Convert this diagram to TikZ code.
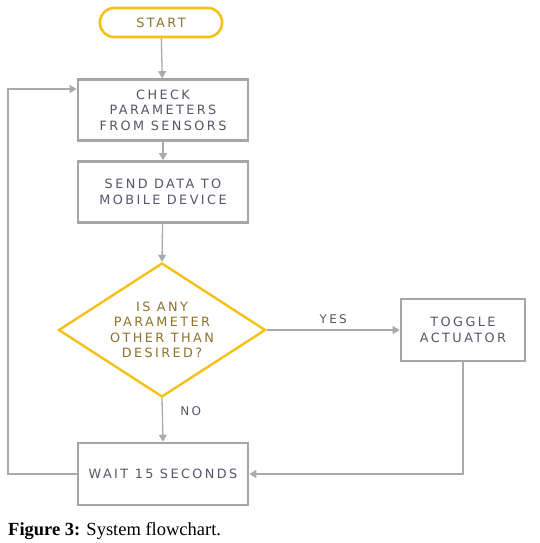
\documentclass[tikz,border=0pt]{standalone}
\usepackage{fontspec}
\setmainfont{Liberation Serif}
\newfontfamily\boxfont[LetterSpace=19]{DejaVu Sans}
\usetikzlibrary{shapes.geometric,arrows.meta}
\definecolor{boxgray}{HTML}{A6A6A6}
\definecolor{linegray}{HTML}{AAAAAA}
\definecolor{gold}{HTML}{F5C116}
\definecolor{goldtext}{HTML}{8E7128}
\definecolor{boxtext}{HTML}{55556A}
\tikzset{
  x=1pt,y=-1pt,
  txt/.style={font=\boxfont\fontsize{12.8}{15.5}\selectfont},
  procbox/.style={txt,draw=boxgray,line width=2.6pt,fill=white,minimum width=170pt,minimum height=61pt,
    text=boxtext,align=center,inner sep=0pt},
  termbox/.style={txt,draw=gold,line width=2.6pt,rounded corners=14pt,minimum width=122pt,minimum height=29pt,
    text=goldtext,inner sep=0pt},
  decbox/.style={draw=gold,line width=2.4pt,diamond,aspect=1.55,minimum width=207pt,minimum height=134pt,
    inner sep=0pt},
  dectxt/.style={txt,text=goldtext,align=center},
  conn/.style={draw=linegray,line width=1.3pt,-{Triangle[width=8pt,length=7pt]}},
  lbl/.style={font=\boxfont\fontsize{12}{14}\selectfont,text=boxtext}
}
\begin{document}
\begin{tikzpicture}
\useasboundingbox (0,0) rectangle (540,543);
\node[termbox] (start) at (161,22.5) {START};
\node[procbox] (check) at (163,110) {CHECK\\PARAMETERS\\FROM SENSORS};
\node[procbox] (send) at (163,192) {SEND DATA TO\\MOBILE DEVICE};
\node[decbox] (dec) at (162,330) {};
\node[dectxt] (dectext) at (162,330) {IS ANY\\PARAMETER\\OTHER THAN\\DESIRED?};
\node[procbox,minimum width=124pt,minimum height=62pt] (toggle) at (463,330) {TOGGLE\\ACTUATOR};
\node[procbox,minimum height=62pt] (wait) at (163,474) {WAIT 15 SECONDS};
\coordinate (lb) at (8,474);
\coordinate (lt) at (8,89);
\coordinate (tb) at (463,474);
\draw[conn] (start) -- (check);
\draw[conn] (check) -- (send);
\draw[conn] (send) -- (dec.north);
\draw[conn] (dec.east) -- node[lbl,above=2pt,pos=0.5] (yes) {YES} (toggle.west);
\draw[conn] (dec.south) -- node[lbl,anchor=west,xshift=14pt,pos=0.3] (no) {NO} (wait.north);
\draw[conn] (wait.west) -- (lb) -- (lt) -- (check.west |- lt);
\draw[conn] (toggle.south) -- (tb) -- (wait.east);
\node[anchor=west,font=\fontsize{18.5}{20}\selectfont,inner sep=0pt] (cap) at (8,531) {\textbf{Figure 3:} System flowchart.};
\end{tikzpicture}
\end{document}
